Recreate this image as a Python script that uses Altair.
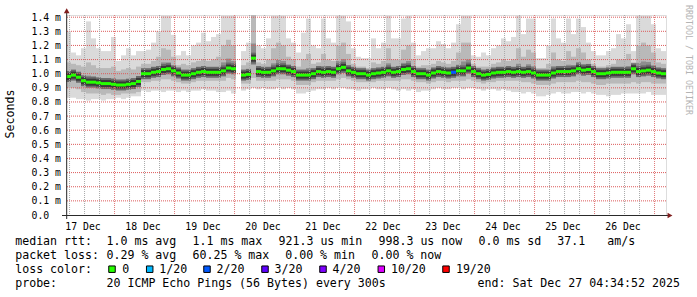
import altair as alt
import pandas as pd

MONO = "DejaVu Sans Mono"

# ---- time base: hours since 17 Dec 00:00; graph ends Sat Dec 27 04:34:52 ----
START_H = 4.58
BIN_H = 2.0

# ---- per-bin smoke / median values (milliseconds) ----
med = [0.98, 0.99, 0.975, 0.95, 0.94, 0.94, 0.935, 0.93, 0.93, 0.925,
       0.92, 0.92, 0.925, 0.93, 0.945, 1.0, 1.0, 1.01, 1.015, 1.03,
       1.035, 1.02, 1.005, 0.99, 0.99, 1.0, 1.01, 1.015, 1.01, 1.01,
       1.01, 1.02, 1.04, 1.035, None, 0.99, 0.995, 1.11, 1.015, 1.01,
       1.01, 1.02, 1.035, 1.035, 1.025, 1.015, 0.99, 0.99, 0.99, 1.0,
       1.015, 1.01, 1.015, 1.01, 1.035, 1.045, 1.02, 1.01, 1.0, 1.0,
       0.99, 1.0, 1.005, 1.01, 1.02, 1.01, 1.015, 1.03, 1.035, 1.015,
       1.0, 1.0, 0.99, 1.005, 1.015, 1.01, 1.005, 1.01, 1.02, 1.02,
       1.04, 1.015, 1.0, 0.99, 0.995, 1.005, 1.01, 1.01, 1.015, 1.01,
       1.015, 1.01, 1.015, 1.005, 0.99, 0.99, 0.99, 1.005, 1.015, 1.015,
       1.015, 1.02, 1.035, 1.025, 1.03, 1.015, 1.0, 1.0, 1.005, 1.01,
       1.01, 1.01, 1.01, 1.035, 1.015, 1.02, 1.025, 1.015, 1.005, 1.0]

mx = [1.3, 1.15, 1.13, 1.18, 1.37, 1.25, 1.18, 1.16, 1.16, 1.26,
      1.09, 1.13, 1.18, 1.13, 1.16, 1.16, 1.17, 1.22, 1.3, 1.42,
      1.42, 1.275, 1.13, 1.16, 1.13, 1.2, 1.22, 1.29, 1.23, 1.26,
      1.28, 1.42, 1.42, 1.42, None, 1.16, 1.22, 1.42, 1.2, 1.18,
      1.25, 1.42, 1.42, 1.42, 1.25, 1.22, 1.15, 1.29, 1.39, 1.2,
      1.18, 1.39, 1.25, 1.22, 1.42, 1.42, 1.37, 1.18, 1.12, 1.11,
      1.11, 1.25, 1.18, 1.22, 1.42, 1.25, 1.25, 1.39, 1.42, 1.22,
      1.13, 1.16, 1.18, 1.18, 1.23, 1.21, 1.18, 1.22, 1.35, 1.42,
      1.42, 1.13, 1.12, 1.15, 1.13, 1.18, 1.2, 1.25, 1.23, 1.26,
      1.42, 1.28, 1.39, 1.39, 1.11, 1.11, 1.2, 1.39, 1.25, 1.22,
      1.39, 1.28, 1.39, 1.33, 1.22, 1.16, 1.13, 1.13, 1.16, 1.18,
      1.28, 1.25, 1.35, 1.16, 1.42, 1.42, 1.42, 1.35, 1.18, 1.16]

up = [1.08, 1.07, 1.06, 1.05, 1.08, 1.06, 1.04, 1.04, 1.04, 1.05,
      1.02, 1.03, 1.04, 1.03, 1.05, 1.07, 1.07, 1.09, 1.12, 1.18,
      1.17, 1.12, 1.06, 1.07, 1.06, 1.08, 1.09, 1.1, 1.09, 1.1,
      1.12, 1.2, 1.24, 1.2, None, 1.06, 1.08, 1.42, 1.08, 1.07,
      1.1, 1.18, 1.22, 1.2, 1.12, 1.1, 1.05, 1.1, 1.14, 1.07,
      1.08, 1.14, 1.1, 1.09, 1.2, 1.22, 1.14, 1.07, 1.05, 1.05,
      1.04, 1.08, 1.07, 1.09, 1.18, 1.1, 1.1, 1.17, 1.2, 1.1,
      1.05, 1.06, 1.06, 1.07, 1.09, 1.08, 1.07, 1.09, 1.15, 1.22,
      1.22, 1.07, 1.05, 1.05, 1.05, 1.07, 1.08, 1.1, 1.09, 1.1,
      1.18, 1.12, 1.17, 1.15, 1.04, 1.04, 1.07, 1.15, 1.1, 1.09,
      1.16, 1.12, 1.18, 1.15, 1.1, 1.07, 1.05, 1.05, 1.06, 1.07,
      1.1, 1.1, 1.14, 1.08, 1.2, 1.22, 1.2, 1.15, 1.08, 1.07]

dn = [0.9, 0.9, 0.89, 0.87, 0.86, 0.86, 0.86, 0.85, 0.86, 0.85,
      0.85, 0.86, 0.86, 0.86, 0.87, 0.94, 0.94, 0.95, 0.95, 0.96,
      0.96, 0.95, 0.94, 0.93, 0.93, 0.94, 0.95, 0.95, 0.95, 0.95,
      0.95, 0.95, 0.97, 0.96, None, 0.93, 0.93, 0.97, 0.95, 0.95,
      0.95, 0.95, 0.96, 0.96, 0.96, 0.95, 0.92, 0.92, 0.92, 0.94,
      0.95, 0.95, 0.95, 0.95, 0.96, 0.97, 0.96, 0.95, 0.94, 0.94,
      0.94, 0.94, 0.95, 0.95, 0.95, 0.95, 0.95, 0.96, 0.96, 0.95,
      0.94, 0.94, 0.93, 0.94, 0.95, 0.95, 0.94, 0.95, 0.95, 0.95,
      0.96, 0.95, 0.94, 0.93, 0.94, 0.94, 0.95, 0.95, 0.95, 0.95,
      0.95, 0.94, 0.94, 0.93, 0.92, 0.92, 0.92, 0.93, 0.94, 0.94,
      0.94, 0.94, 0.95, 0.94, 0.94, 0.93, 0.92, 0.92, 0.93, 0.93,
      0.93, 0.93, 0.93, 0.94, 0.93, 0.94, 0.94, 0.93, 0.93, 0.93]

mn = [0.83, 0.83, 0.82, 0.82, 0.81, 0.82, 0.82, 0.81, 0.82, 0.82,
      0.83, 0.82, 0.83, 0.84, 0.84, 0.88, 0.87, 0.88, 0.88, 0.87,
      0.88, 0.88, 0.87, 0.88, 0.87, 0.88, 0.88, 0.89, 0.88, 0.88,
      0.87, 0.87, 0.88, 0.86, None, 0.88, 0.89, 0.9, 0.89, 0.9,
      0.89, 0.89, 0.9, 0.89, 0.9, 0.89, 0.86, 0.86, 0.87, 0.88,
      0.89, 0.89, 0.9, 0.89, 0.9, 0.9, 0.89, 0.89, 0.88, 0.89,
      0.89, 0.9, 0.89, 0.89, 0.9, 0.89, 0.88, 0.89, 0.88, 0.89,
      0.87, 0.88, 0.88, 0.89, 0.9, 0.89, 0.89, 0.9, 0.9, 0.89,
      0.9, 0.9, 0.89, 0.88, 0.89, 0.89, 0.88, 0.89, 0.88, 0.87,
      0.87, 0.86, 0.87, 0.86, 0.84, 0.84, 0.85, 0.86, 0.87, 0.86,
      0.86, 0.87, 0.87, 0.86, 0.87, 0.86, 0.85, 0.85, 0.84, 0.85,
      0.85, 0.86, 0.86, 0.86, 0.86, 0.86, 0.87, 0.85, 0.85, 0.85]

loss = [0] * 77 + [2] + [0] * 42

# ---- legend / labels ----
loss_levels = [0, 1, 2, 3, 4, 10, 19]
loss_labels = ["0", "1/20", "2/20", "3/20", "4/20", "10/20", "19/20"]
loss_colors = ["#26ff00", "#00b8ff", "#0059ff", "#5e00ff", "#7e00ff", "#dd00ff", "#ff0000"]
day_labels = ["17 Dec", "18 Dec", "19 Dec", "20 Dec", "21 Dec",
              "22 Dec", "23 Dec", "24 Dec", "25 Dec", "26 Dec"]
y_ticks = [round(0.1 * k, 1) for k in range(15)]
y_labels = ["0.0"] + ["%.1f m" % v for v in y_ticks[1:]]
row1 = ["median rtt:", "1.0 ms avg", "1.1 ms max", "921.3 us min",
        "998.3 us now", "0.0 ms sd", "37.1", "am/s"]
row2 = ["packet loss:", "0.29 % avg", "60.25 % max", "0.00 % min", "0.00 % now"]
row4 = ["probe:", "20 ICMP Echo Pings (56 Bytes) every 300s",
        "end: Sat Dec 27 04:34:52 2025"]

n = len(med)
t0 = [START_H + BIN_H * i for i in range(n)]
t1 = [t + BIN_H for t in t0]
df = pd.DataFrame({"t0": t0, "t1": t1, "med": med, "mx": mx, "up": up,
                   "dn": dn, "mn": mn, "loss": loss})

W, H = 600, 200
PADL, PADT = 66, 15
END_H = START_H + BIN_H * n

xs = alt.Scale(domain=[START_H, END_H], nice=False, zero=False)
ys = alt.Scale(domain=[0, 1.4154], nice=False, zero=False)

noon_hours = [12 + 24 * k for k in range(len(day_labels))]
x_expr = "[" + ",".join("'%s'" % s for s in day_labels) + "][floor((datum.value - 12) / 24)]"
y_expr = "[" + ",".join("'%s'" % s for s in y_labels) + "][round(datum.value * 10)]"

x_axis = alt.Axis(values=noon_hours, labelExpr=x_expr, title=None, domain=False,
                  ticks=False, tickSize=0, grid=False, labelFont=MONO,
                  labelFontSize=9.8, labelColor="#000000", labelPadding=14,
                  labelBaseline="alphabetic", labelOffset=-2,
                  labelOverlap=False, labelFlush=False)
y_axis = alt.Axis(values=y_ticks, labelExpr=y_expr, title=None, domain=False,
                  ticks=False, tickSize=0, grid=False, labelFont=MONO,
                  labelFontSize=9.8, labelColor="#000000", labelPadding=35,
                  labelAlign="left", labelBaseline="middle",
                  labelOverlap=False, labelFlush=False)


def XF(f):
    return alt.X(f, scale=xs, axis=x_axis)


def YF(f):
    return alt.Y(f, scale=ys, axis=y_axis)


base = alt.Chart(df).transform_calculate(
    up2="(datum.up + 2 * datum.med) / 3",
    dn2="(datum.dn + 2 * datum.med) / 3",
)
X2 = alt.X2("t1:Q")

smoke_light = base.mark_rect(color="#dadada", clip=True).encode(
    x=XF("t0:Q"), x2=X2, y=YF("mn:Q"), y2="mx:Q")
smoke_mid = base.mark_rect(color="#b9b9b9", clip=True).encode(
    x=XF("t0:Q"), x2=X2, y=YF("dn:Q"), y2="up:Q")
smoke_in = base.mark_rect(color="#8e8e8e", clip=True).encode(
    x=XF("t0:Q"), x2=X2, y=YF("dn2:Q"), y2="up2:Q")
core_a = base.mark_rule(strokeWidth=11, color="#6a6a6a", clip=True).encode(
    x=XF("t0:Q"), x2=X2, y=YF("med:Q"))
core_b = base.mark_rule(strokeWidth=7, color="#383838", clip=True).encode(
    x=XF("t0:Q"), x2=X2, y=YF("med:Q"))

# grid
h_grid = alt.Chart(pd.DataFrame({"v": y_ticks[1:]})).mark_rule(
    color="#dc5a5a", strokeWidth=1, strokeDash=[1, 1]).encode(y=YF("v:Q"))
minor_h = [h for h in range(6, int(END_H) + 1, 6) if h % 24 != 0 and h > START_H]
major_h = [h for h in range(24, int(END_H) + 1, 24)]
v_minor = alt.Chart(pd.DataFrame({"h": minor_h})).mark_rule(
    color="#a8a8a8", strokeWidth=1, strokeDash=[1, 1]).encode(x=XF("h:Q"))
v_major = alt.Chart(pd.DataFrame({"h": major_h})).mark_rule(
    color="#e07878", strokeWidth=1, strokeDash=[1, 1]).encode(x=XF("h:Q"))

median = base.mark_rule(strokeWidth=3, clip=True).encode(
    x=XF("t0:Q"), x2=X2, y=YF("med:Q"),
    color=alt.Color("loss:O", scale=alt.Scale(domain=loss_levels, range=loss_colors),
                    legend=None))

one = pd.DataFrame({"a": [0]})
x_line = alt.Chart(one).mark_rule(color="#2a2a2a", strokeWidth=1).encode(
    x=alt.value(-4), x2=alt.value(604), y=alt.value(200.5))
y_line = alt.Chart(one).mark_rule(color="#2a2a2a", strokeWidth=1).encode(
    x=alt.value(0.7), y=alt.value(-3), y2=alt.value(204))
x_arrow = alt.Chart(one).mark_point(shape="triangle-right", filled=True, opacity=1,
                                    color="#801f1f", size=32).encode(
    x=alt.value(604), y=alt.value(200.5))
y_arrow = alt.Chart(one).mark_point(shape="triangle-up", filled=True, opacity=1,
                                    color="#801f1f", size=32).encode(
    x=alt.value(0.7), y=alt.value(-4.2))


def txt(s, x, y, size=11.6, color="#000000", angle=0, align="left", baseline="alphabetic"):
    return alt.Chart(pd.DataFrame({"t": [s]})).mark_text(
        align=align, baseline=baseline, font=MONO, fontSize=size, color=color,
        angle=angle).encode(x=alt.value(x - PADL), y=alt.value(y - PADT), text="t:N")


layers = [smoke_light, smoke_mid, smoke_in, core_a, core_b, h_grid, v_minor, v_major,
          median, x_line, y_line, x_arrow, y_arrow]

layers.append(txt("Seconds", 10.5, 114, angle=270, align="center", baseline="middle"))
layers.append(txt("RRDTOOL / TOBI OETIKER", 688.3, 5, size=8.3, color="#b4b4b4",
                  angle=90, align="left", baseline="middle"))

r1x = [15.2, 106.5, 192.5, 278.5, 378.5, 478.5, 557.2, 607.2]
for s, x in zip(row1, r1x):
    layers.append(txt(s, x, 245.3))
r2x = [15.2, 106.5, 192.5, 285.2, 371.5]
for s, x in zip(row2, r2x):
    layers.append(txt(s, x, 259.3))
layers.append(txt("loss color:", 15.2, 273.3))
lab_x = [122.2, 159.2, 216.5, 274.5, 332.5, 390.9, 455.9]
sq_x = [112, 149.7, 207, 265, 323, 381.3, 446]
for lab, col, lx, sx in zip(loss_labels, loss_colors, lab_x, sq_x):
    layers.append(txt(lab, lx, 273.3))
    layers.append(alt.Chart(one).mark_square(filled=True, opacity=1, color=col,
                                             stroke="#000000", strokeWidth=1, size=42).encode(
        x=alt.value(sx - PADL), y=alt.value(269.2 - PADT)))
r4x = [15.2, 106.5, 477.5]
for s, x in zip(row4, r4x):
    layers.append(txt(s, x, 287))

chart = alt.layer(*layers).properties(
    width=W, height=H,
    padding={"left": PADL, "top": PADT, "right": 697 - PADL - W, "bottom": 297 - PADT - H},
    autosize=alt.AutoSizeParams(type="none"),
).configure_view(stroke=None).configure(background="#ffffff")

chart.save("out.html", embed_options={"renderer": "svg", "actions": False})
